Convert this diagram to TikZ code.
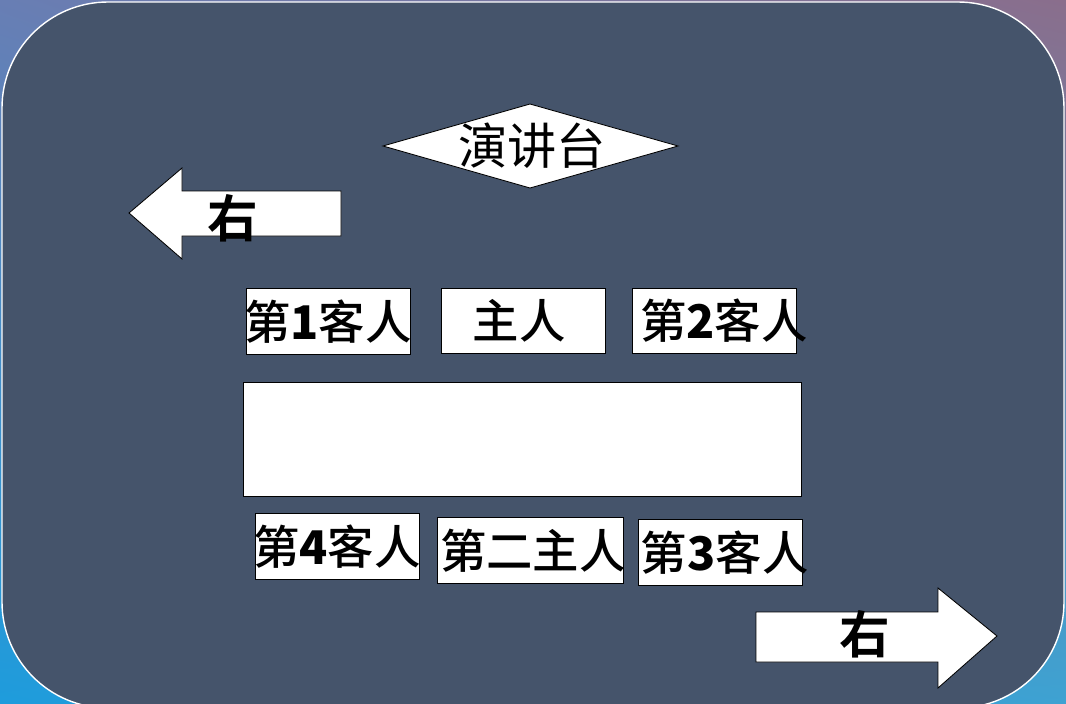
\documentclass[tikz,border=0pt]{standalone}
\usepackage{fontspec}
\newfontfamily\cjk[BoldFont={Noto Sans CJK SC Medium}]{Noto Sans CJK SC}
\newfontfamily\cjkheavy{Noto Sans CJK SC Bold}
\usetikzlibrary{shapes, calc, shadings}

\definecolor{slate}{RGB}{69,84,107}
\definecolor{bgblue}{RGB}{104,126,180}
\definecolor{bgmauve}{RGB}{138,110,140}
\definecolor{bgcyan}{RGB}{30,156,220}
\definecolor{bgsky}{RGB}{62,162,210}

\newcommand{\seatno}[1]{{\cjkheavy #1}}
\newcommand{\seatname}[1]{\makebox[0pt]{#1}}

\tikzset{
	seat/.style={draw=black, fill=white, line width=0.6pt, inner sep=0pt, minimum width=4.1cm, minimum height=1.63cm, font=\cjk\bfseries\fontsize{33}{33}\selectfont},
	plain/.style={draw=black, fill=white, line width=0.6pt},
	sign/.style={font=\cjkheavy\fontsize{36}{36}\selectfont, inner sep=0pt},
}

\begin{document}
\begin{tikzpicture}[x=0.025cm, y=-0.025cm]
	\useasboundingbox (0,0) rectangle (1066,704);
	\shade[upper left=bgblue, upper right=bgmauve, lower left=bgcyan, lower right=bgsky] (0,0) rectangle (1066,704);
	\draw[white, fill=slate, line width=1pt, rounded corners=2.65cm] (2,2) rectangle (1064,708);

	\draw[plain] (383,146) -- (530,104) -- (678,146) -- (530,188) -- cycle;
	\node[font=\cjk\fontsize{35}{35}\selectfont, inner sep=0pt] (podium) at (532,146) {演讲台};

	\draw[plain] (129,213) -- (182,168) -- (182,191) -- (341,191) -- (341,236) -- (182,236) -- (182,259) -- cycle;
	\node[sign] (leftsign) at (233,218) {右};

	\draw[plain] (756,612) -- (938,612) -- (938,588) -- (997,636) -- (938,688) -- (938,662) -- (756,662) -- cycle;
	\node[sign] (rightsign) at (865,634) {右};

	\node[seat] (guest1) at (328,321.5) {\seatname{第\seatno{1}客人}};
	\node[seat] (host) at (523.5,321) {\seatname{\hspace{-6pt}主人}};
	\node[seat] (guest2) at (714,321) {\seatname{\hspace{14pt}第\seatno{2}客人}};

	\node[plain, minimum width=13.95cm, minimum height=2.83cm] (table) at (522,439.5) {};

	\node[seat] (guest4) at (337,546.5) {\seatname{第\seatno{4}客人}};
	\node[seat, minimum width=4.65cm] (host2) at (530,550.5) {\seatname{\hspace{4pt}第二主人}};
	\node[seat] (guest3) at (720.5,552.5) {\seatname{\hspace{6pt}第\seatno{3}客人}};
\end{tikzpicture}
\end{document}
